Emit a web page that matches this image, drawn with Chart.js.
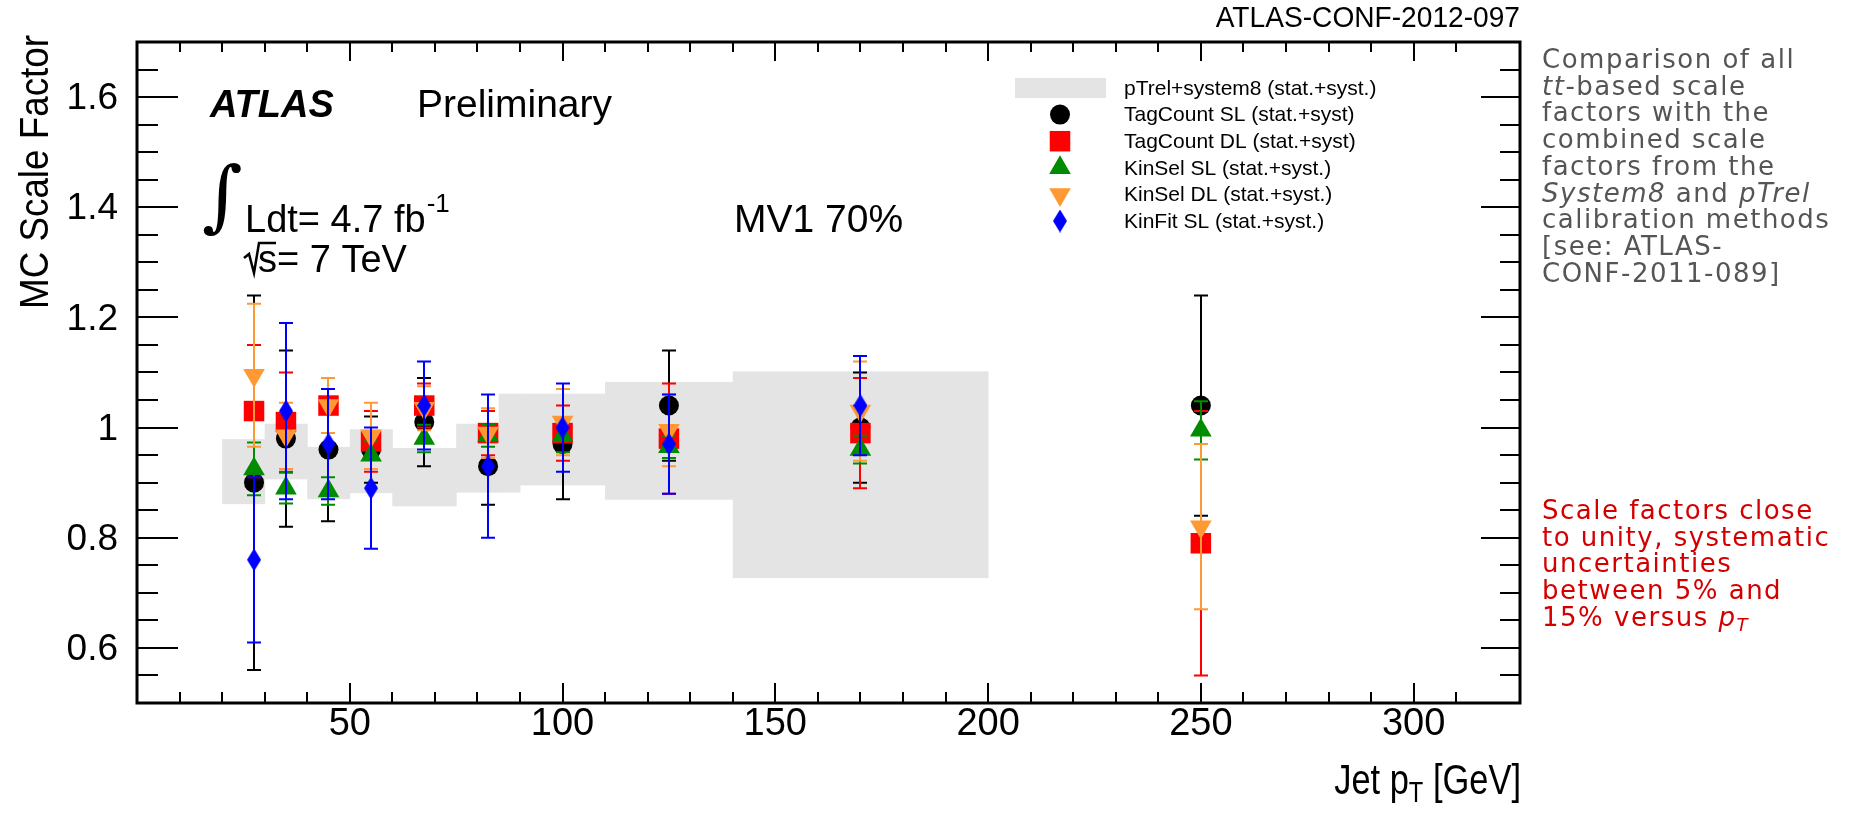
<!DOCTYPE html>
<html>
<head>
<meta charset="utf-8">
<script src="https://cdn.jsdelivr.net/npm/chart.js@4.4.0/dist/chart.umd.min.js"></script>
<style>
body { margin: 0; background: #fff; }
#wrap { position: relative; width: 1849px; height: 818px; overflow: hidden; }
#sf_chart { position: absolute; left: 0; top: 0; }
.note { position: absolute; left: 1542px; font-family: 'DejaVu Sans', sans-serif; font-size: 26px; letter-spacing: 1.5px; line-height: 26.7px; white-space: nowrap; }
.gray { color: #555555; }
.red { color: #d40000; }
.sub { font-size: 0.7em; position: relative; top: 0.3em; }
</style>
</head>
<body>
<div id="wrap">
<canvas id="sf_chart" width="1849" height="818"></canvas>
<div class="note gray" style="top:46px">Comparison of all<br><i>tt</i>-based scale<br>factors with the<br>combined scale<br>factors from the<br><i>System8</i> and <i>pTrel</i><br>calibration methods<br>[see: ATLAS-<br>CONF-2011-089]</div>
<div class="note red" style="top:497px">Scale factors close<br>to unity, systematic<br>uncertainties<br>between 5% and<br>15% versus <i>p<span class="sub">T</span></i></div>
</div>
<script>
// jet pT bin centres [GeV]
var ptBins = [27.5, 35, 45, 55, 67.5, 82.5, 100, 125, 170, 250];

// scale factors and total (stat.+syst.) errors
var tagCountSL    = [0.90, 0.98, 0.96, 0.96, 1.01, 0.93, 0.97, 1.04, 1.00, 1.04];
var tagCountSLErr = [0.34, 0.16, 0.13, 0.06, 0.08, 0.07, 0.10, 0.10, 0.10, 0.20];
var tagCountDL    = [1.03, 1.01, 1.04, 0.975, 1.04, 0.99, 0.99, 0.98, 0.99, 0.79];
var tagCountDLErr = [0.12, 0.09, 0.05, 0.055, 0.04, 0.04, 0.05, 0.10, 0.10, 0.24];
var kinSelSL      = [0.925, 0.89, 0.885, 0.95, 0.98, 0.985, 0.985, 0.965, 0.96, 0.995];
var kinSelSLErr   = [0.048, 0.028, 0.025, 0.025, 0.025, 0.02, 0.03, 0.02, 0.025, 0.053];
var kinSelDL      = [1.095, 0.985, 1.04, 0.985, 1.035, 0.99, 1.01, 0.995, 1.03, 0.82];
var kinSelDLErr   = [0.13, 0.06, 0.05, 0.06, 0.04, 0.045, 0.06, 0.065, 0.09, 0.15];
var kinFitSL      = [0.76, 1.03, 0.97, 0.89, 1.04, 0.93, 1.00, 0.97, 1.04];
var kinFitSLErr   = [0.15, 0.16, 0.10, 0.11, 0.08, 0.13, 0.08, 0.09, 0.09];

// pTrel+system8 combined band
var bandLow    = [20, 30, 40, 50, 60, 75, 85, 90, 110, 140];
var bandHigh   = [30, 40, 50, 60, 75, 85, 90, 110, 140, 200];
var bandTop    = [0.979, 1.007, 0.965, 0.997, 0.963, 1.007, 1.0615, 1.0615, 1.083, 1.102];
var bandBottom = [0.861, 0.906, 0.870, 0.881, 0.857, 0.882, 0.882, 0.895, 0.869, 0.727];

var xTickLabels = [50, 100, 150, 200, 250, 300];
var yTickValues = [0.6, 0.8, 1.0, 1.2, 1.4, 1.6];
var yTickLabels = ['0.6', '0.8', '1', '1.2', '1.4', '1.6'];

var legendLabels = ['pTrel+system8 (stat.+syst.)', 'TagCount SL (stat.+syst)', 'TagCount DL (stat.+syst)',
    'KinSel SL (stat.+syst.)', 'KinSel DL (stat.+syst.)', 'KinFit SL (stat.+syst.)'];

var FONT = "'Liberation Sans', Arial, sans-serif";

function toPoints(vals){
    var pts = [];
    for (var i = 0; i < vals.length; i++) pts.push({x: ptBins[i], y: vals[i]});
    return pts;
}

// draws text squeezed horizontally (helvetica condensed look)
function narrowText(ctx, text, x, y, sx){
    ctx.save();
    ctx.translate(x, y);
    ctx.scale(sx, 1);
    ctx.fillText(text, 0, 0);
    ctx.restore();
}

// narrow ROOT-like diamond marker
var diamond = document.createElement('canvas');
diamond.width = 14; diamond.height = 23;
(function(){
    var c = diamond.getContext('2d');
    c.fillStyle = '#0000ff';
    c.beginPath();
    c.moveTo(7, 0); c.lineTo(14, 11.5); c.lineTo(7, 23); c.lineTo(0, 11.5);
    c.closePath(); c.fill();
})();

var bandPlugin = {
    id: 'band',
    beforeDatasetsDraw: function(chart){
        var ctx = chart.ctx, xs = chart.scales.x, ys = chart.scales.y;
        ctx.save();
        ctx.fillStyle = '#e4e4e4';
        for (var i = 0; i < bandLow.length; i++) {
            var x0 = xs.getPixelForValue(bandLow[i]), x1 = xs.getPixelForValue(bandHigh[i]);
            var y0 = ys.getPixelForValue(bandTop[i]), y1 = ys.getPixelForValue(bandBottom[i]);
            ctx.fillRect(x0, y0, x1 - x0 + 0.5, y1 - y0);
        }
        ctx.restore();
    }
};

var errorBarPlugin = {
    id: 'errorBars',
    beforeDatasetDraw: function(chart, args){
        var ds = chart.data.datasets[args.index];
        if (!ds.errs) return;
        var ctx = chart.ctx, xs = chart.scales.x, ys = chart.scales.y;
        ctx.save();
        ctx.strokeStyle = ds.barColor;
        ctx.lineWidth = 2;
        for (var i = 0; i < ds.data.length; i++) {
            var px = Math.round(xs.getPixelForValue(ds.data[i].x));
            var top = ys.getPixelForValue(ds.data[i].y + ds.errs[i]);
            var bot = ys.getPixelForValue(ds.data[i].y - ds.errs[i]);
            ctx.beginPath();
            ctx.moveTo(px, top); ctx.lineTo(px, bot);
            ctx.moveTo(px - 7, top); ctx.lineTo(px + 7, top);
            ctx.moveTo(px - 7, bot); ctx.lineTo(px + 7, bot);
            ctx.stroke();
        }
        ctx.restore();
    }
};

// ROOT style frame with inward ticks, labels and texts
var framePlugin = {
    id: 'frame',
    afterDraw: function(chart){
        var ctx = chart.ctx, xs = chart.scales.x, ys = chart.scales.y, a = chart.chartArea;
        ctx.save();
        ctx.strokeStyle = '#000';
        ctx.lineWidth = 3;
        ctx.strokeRect(a.left, a.top, a.right - a.left, a.bottom - a.top);
        ctx.lineWidth = 2;
        ctx.beginPath();
        xs.ticks.forEach(function(t){
            if (t.value <= xs.min || t.value >= xs.max) return;
            var px = Math.round(xs.getPixelForValue(t.value));
            var major = t.value % 50 === 0;
            ctx.moveTo(px, a.bottom); ctx.lineTo(px, a.bottom - (major ? 20 : 11));
            ctx.moveTo(px, a.top); ctx.lineTo(px, a.top + (major ? 19 : 10));
        });
        ys.ticks.forEach(function(t){
            if (t.value <= ys.min + 1e-6 || t.value >= ys.max - 1e-6) return;
            var py = Math.round(ys.getPixelForValue(t.value));
            var major = Math.abs(t.value * 5 - Math.round(t.value * 5)) < 1e-6;
            ctx.moveTo(a.left, py); ctx.lineTo(a.left + (major ? 41 : 21), py);
            ctx.moveTo(a.right, py); ctx.lineTo(a.right - (major ? 39 : 20), py);
        });
        ctx.stroke();

        // tick labels
        ctx.fillStyle = '#000';
        ctx.font = '38px ' + FONT;
        ctx.textAlign = 'center';
        ctx.textBaseline = 'alphabetic';
        xTickLabels.forEach(function(v){
            ctx.fillText(String(v), xs.getPixelForValue(v), a.bottom + 32);
        });
        ctx.font = '37px ' + FONT;
        ctx.textAlign = 'right';
        ctx.textBaseline = 'middle';
        yTickValues.forEach(function(v, i){
            ctx.fillText(yTickLabels[i], a.left - 19, ys.getPixelForValue(v) + 2);
        });

        // axis titles (condensed)
        ctx.textBaseline = 'alphabetic';
        ctx.textAlign = 'left';
        var sx = 0.82;
        ctx.font = '42px ' + FONT;
        var w1 = ctx.measureText('Jet p').width * sx, w3 = ctx.measureText(' [GeV]').width * sx;
        ctx.font = '29px ' + FONT;
        var w2 = ctx.measureText('T').width * sx;
        var xStart = a.right + 1 - w1 - w2 - w3;
        ctx.font = '42px ' + FONT;
        narrowText(ctx, 'Jet p', xStart, 794, sx);
        narrowText(ctx, ' [GeV]', xStart + w1 + w2, 794, sx);
        ctx.font = '29px ' + FONT;
        narrowText(ctx, 'T', xStart + w1, 802, sx);

        ctx.save();
        ctx.translate(48, a.top - 7);
        ctx.rotate(-Math.PI / 2);
        ctx.font = '40px ' + FONT;
        ctx.textAlign = 'right';
        narrowText(ctx, 'MC Scale Factor', 0, 0, 0.92);
        ctx.restore();

        ctx.font = '29px ' + FONT;
        ctx.textAlign = 'right';
        narrowText(ctx, 'ATLAS-CONF-2012-097', a.right, 27, 0.97);

        // ATLAS labels
        ctx.textAlign = 'left';
        ctx.font = 'italic bold 38px ' + FONT;
        ctx.fillText('ATLAS', 210, 117);
        ctx.font = '39px ' + FONT;
        ctx.fillText('Preliminary', 417, 117);
        ctx.font = '38px ' + FONT;
        ctx.fillText('Ldt= 4.7 fb', 245, 232);
        var wl = ctx.measureText('Ldt= 4.7 fb').width;
        ctx.font = '39px ' + FONT;
        ctx.fillText('MV1 70%', 734, 232);
        ctx.font = '38px ' + FONT;
        ctx.fillText('s= 7 TeV', 258, 272);
        ctx.font = '26px ' + FONT;
        ctx.fillText('-1', 245 + wl + 1, 212);
        // sqrt sign
        ctx.lineWidth = 2.5;
        ctx.beginPath();
        ctx.moveTo(244, 258); ctx.lineTo(249, 254); ctx.lineTo(254, 273); ctx.lineTo(259, 243); ctx.lineTo(276, 243);
        ctx.stroke();
        // integral sign
        ctx.font = '78px ' + "'DejaVu Serif', serif";
        ctx.fillText('\u222B', 202, 222);

        // legend
        var lx = 1060, ly0 = 88, dy = 26.6;
        ctx.fillStyle = '#e4e4e4';
        ctx.fillRect(1015, 78, 91, 20);
        ctx.font = '21px ' + FONT;
        ctx.textBaseline = 'middle';
        ctx.fillStyle = '#000';
        ctx.fillText(legendLabels[0], 1124, ly0 + 1);
        [0, 1, 2, 3, 4].forEach(function(k, i){
            var ds = chart.data.datasets[k];
            var yy = ly0 + dy * (i + 1);
            ctx.fillStyle = ds.backgroundColor;
            Chart.helpers.drawPoint(ctx, {pointStyle: ds.pointStyle, radius: ds.pointRadius, rotation: ds.pointRotation || 0, borderWidth: 0}, lx, yy);
            ctx.fillStyle = '#000';
            ctx.fillText(legendLabels[i + 1], 1124, yy + 1);
        });
        ctx.restore();
    }
};

var ctx = document.getElementById('sf_chart').getContext('2d');
var myChart = new Chart(ctx, {
    type: 'scatter',
    data: {
        datasets: [{
            label: 'TagCount SL (stat.+syst)',
            data: toPoints(tagCountSL),
            errs: tagCountSLErr,
            barColor: '#000000',
            pointStyle: 'circle',
            pointRadius: 10,
            backgroundColor: '#000000',
            borderWidth: 0,
            order: 5
        }, {
            label: 'TagCount DL (stat.+syst)',
            data: toPoints(tagCountDL),
            errs: tagCountDLErr,
            barColor: '#ff0000',
            pointStyle: 'rect',
            pointRadius: 14.5,
            backgroundColor: '#ff0000',
            borderWidth: 0,
            order: 4
        }, {
            label: 'KinSel SL (stat.+syst.)',
            data: toPoints(kinSelSL),
            errs: kinSelSLErr,
            barColor: '#008c00',
            pointStyle: 'triangle',
            pointRadius: 12.5,
            backgroundColor: '#008c00',
            borderWidth: 0,
            order: 3
        }, {
            label: 'KinSel DL (stat.+syst.)',
            data: toPoints(kinSelDL),
            errs: kinSelDLErr,
            barColor: '#ff9933',
            pointStyle: 'triangle',
            pointRotation: 180,
            pointRadius: 12.5,
            backgroundColor: '#ff9933',
            borderWidth: 0,
            order: 2
        }, {
            label: 'KinFit SL (stat.+syst.)',
            data: toPoints(kinFitSL),
            errs: kinFitSLErr,
            barColor: '#0000ff',
            pointStyle: diamond,
            pointRadius: 12,
            backgroundColor: '#0000ff',
            borderWidth: 0,
            order: 1
        }]
    },
    options: {
        responsive: false,
        animation: false,
        layout: { padding: { left: 137, right: 329, top: 42, bottom: 115 } },
        plugins: { legend: { display: false }, tooltip: { enabled: false } },
        scales: {
            x: {
                type: 'linear', min: 0, max: 325,
                ticks: { stepSize: 10, display: false },
                grid: { display: false }, border: { display: false },
                afterFit: function(s){ s.height = 0; }
            },
            y: {
                type: 'linear', min: 0.5, max: 1.7,
                ticks: { stepSize: 0.05, display: false },
                grid: { display: false }, border: { display: false },
                afterFit: function(s){ s.width = 0; }
            }
        }
    },
    plugins: [bandPlugin, errorBarPlugin, framePlugin]
});
</script>
</body>
</html>
